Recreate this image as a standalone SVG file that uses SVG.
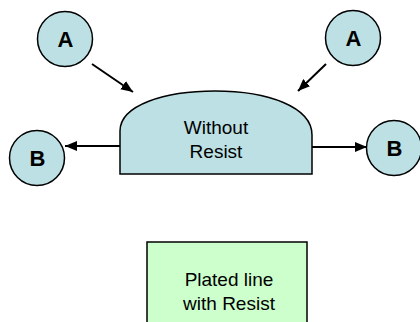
<svg xmlns="http://www.w3.org/2000/svg" width="420" height="322" viewBox="0 0 420 322">
  <defs>
    <marker id="arrow" viewBox="0 0 12 10" refX="12" refY="5" markerWidth="12" markerHeight="10" markerUnits="userSpaceOnUse" orient="auto">
      <path d="M0,0 L12,5 L0,10 Z" fill="#000"/>
    </marker>
    <style>
      .node { fill: #BCE0E4; stroke: #000; stroke-width: 1.5; }
      .box { fill: #CCFFCC; stroke: #000; stroke-width: 1.5; }
      .lbl { font-family: "Liberation Sans", Arial, sans-serif; font-size: 22px; font-weight: bold; fill: #000; text-anchor: middle; }
      .txt { font-family: "Liberation Sans", Arial, sans-serif; font-size: 19px; fill: #000; text-anchor: middle; }
      .conn { stroke: #000; stroke-width: 2; fill: none; marker-end: url(#arrow); }
    </style>
  </defs>
  <rect width="420" height="322" fill="#fff"/>

  <g id="connectors">
    <line class="conn" x1="92" y1="64" x2="133" y2="92"/>
    <line class="conn" x1="326" y1="64" x2="298" y2="91"/>
    <line class="conn" x1="120" y1="146" x2="65" y2="146"/>
    <line class="conn" x1="312" y1="147" x2="367" y2="147"/>
  </g>

  <g id="node-a-left">
    <circle class="node" cx="65" cy="39" r="27.5"/>
    <text class="lbl" x="65.5" y="47">A</text>
  </g>
  <g id="node-a-right">
    <circle class="node" cx="353" cy="38" r="27.5"/>
    <text class="lbl" x="353.5" y="46">A</text>
  </g>
  <g id="node-b-left">
    <circle class="node" cx="37" cy="158" r="27.5"/>
    <text class="lbl" x="37.5" y="166">B</text>
  </g>
  <g id="node-b-right">
    <circle class="node" cx="394" cy="148" r="27.5"/>
    <text class="lbl" x="394.5" y="156">B</text>
  </g>

  <g id="node-without-resist">
    <path class="node" d="M120,174 V131 C120,105 165,91 215,91 C268,91 312,107 312,135 V174 Z"/>
    <text class="txt" x="216" y="134">Without</text>
    <text class="txt" x="216" y="158">Resist</text>
  </g>

  <g id="node-plated-line">
    <rect class="box" x="147" y="242" width="160" height="100"/>
    <text class="txt" x="229" y="286">Plated line</text>
    <text class="txt" x="229" y="310">with Resist</text>
  </g>
</svg>
